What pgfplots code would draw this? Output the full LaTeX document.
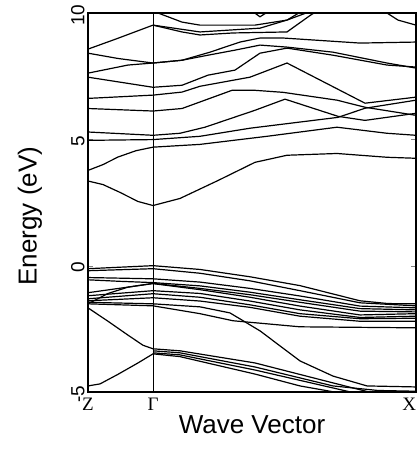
\documentclass[border=0pt]{standalone}
\usepackage{fontspec}
\setmainfont{Liberation Sans}
\newfontfamily\serif{Liberation Serif}
\usepackage{pgfplots}
\pgfplotsset{compat=1.18}
\begin{document}
\begin{tikzpicture}
\begin{axis}[
  at={(0,0)}, anchor=south west,
  scale only axis, width=328pt, height=379pt,
  xmin=0, xmax=328, ymin=-5, ymax=10,
  axis line style={line width=1.1pt},
  xtick={0,65,328}, xticklabels={Z,Γ,\llap{X}},
  xticklabel style={font=\serif\fontsize{19}{20}\selectfont, yshift=-3pt},
  major x tick style={draw=none},
  ytick={-5,0,5,10}, yticklabels={-5,0,5,10},
  yticklabel style={rotate=90, anchor=south, font=\fontsize{19}{22}\selectfont, xshift=-2pt},
  tick align=inside, ytick pos=both, major tick length=5pt,
  xlabel={Wave Vector}, ylabel={Energy (eV)},
  xlabel style={font=\fontsize{26}{30}\selectfont, at={(axis description cs:0.5,-0.087)}, anchor=center},
  ylabel style={font=\fontsize{26}{30}\selectfont, at={(axis description cs:-0.177,0.464)}, anchor=center},
  band/.style={black, line width=1.2pt},
]
% Gamma line
\addplot[black, line width=0.9pt] coordinates {(65,-5)(65,10)};
% conduction bands
\addplot[band] coordinates {(0,3.35)(15,3.21)(32,2.90)(50,2.54)(65,2.38)(92,2.66)(130,3.37)(167,4.09)(199,4.37)(249,4.44)(299,4.29)(328,4.25)};
\addplot[band] coordinates {(0,3.77)(15,4.0)(30,4.30)(48,4.55)(65,4.69)(112,4.80)(179,5.12)(249,5.48)(299,5.24)(328,5.16)};
\addplot[band] coordinates {(0,4.96)(65,4.99)(112,5.12)(162,5.44)(250,5.87)(277,6.23)(328,6.55)};
\addplot[band] coordinates {(0,5.29)(65,5.16)(92,5.24)(117,5.48)(167,6.15)(197,6.59)(250,5.91)(277,5.75)(328,6.03)};
\addplot[band] coordinates {(0,6.22)(65,6.12)(94,6.22)(144,6.94)(167,6.94)(195,6.86)(249,6.55)(277,6.27)(328,5.95)};
\addplot[band] coordinates {(0,6.62)(65,6.75)(94,6.87)(112,7.10)(162,7.46)(199,8.02)(277,6.43)(328,6.67)};
\addplot[band] coordinates {(0,7.46)(65,7.06)(94,7.14)(120,7.54)(147,7.74)(172,8.41)(199,8.61)(245,8.33)(299,7.94)(328,7.86)};
\addplot[band] coordinates {(0,7.62)(40,7.94)(65,8.02)(94,8.13)(120,8.33)(147,8.53)(172,8.73)(199,8.65)(245,8.45)(299,8.02)(328,7.82)};
\addplot[band] coordinates {(0,8.41)(30,8.2)(65,8.02)(94,8.13)(122,8.45)(152,8.85)(172,9.01)(195,9.01)(272,8.81)(328,8.85)};
\addplot[band] coordinates {(0,8.57)(30,9.0)(65,9.52)(94,9.25)(112,9.13)(145,9.21)(199,9.25)(222,9.9)(230,10.1)};
\addplot[band] coordinates {(65,9.52)(112,9.25)(172,9.4)(199,9.72)(225,10.1)};
\addplot[band] coordinates {(70,10.0)(94,9.64)(112,9.52)(167,9.52)(199,9.72)(215,10.1)};
\addplot[band] coordinates {(295,10.1)(310,9.72)(328,9.52)};
\addplot[band] coordinates {(165,10.05)(172,9.85)(180,10.05)};
% valence bands
\addplot[band] coordinates {(0,-0.12)(65,0)(112,-0.15)(162,-0.44)(212,-0.79)(272,-1.39)(300,-1.5)(328,-1.51)};
\addplot[band] coordinates {(0,-0.2)(65,-0.12)(112,-0.3)(162,-0.6)(212,-0.99)(272,-1.47)(328,-1.59)};
\addplot[band] coordinates {(0,-0.47)(65,-0.52)(112,-0.65)(162,-0.9)(212,-1.2)(272,-1.6)(328,-1.67)};
\addplot[band] coordinates {(0,-0.56)(32,-0.62)(65,-0.67)(112,-0.8)(162,-1.05)(212,-1.35)(272,-1.7)(328,-1.75)};
\addplot[band] coordinates {(0,-1.51)(20,-1.1)(40,-0.85)(65,-0.7)(112,-0.9)(162,-1.15)(212,-1.45)(272,-1.8)(328,-1.83)};
\addplot[band] coordinates {(0,-1.07)(65,-0.71)(112,-0.95)(162,-1.25)(212,-1.6)(272,-1.95)(328,-1.9)};
\addplot[band] coordinates {(0,-1.19)(65,-0.99)(112,-1.1)(162,-1.4)(212,-1.75)(272,-2.05)(328,-2.0)};
\addplot[band] coordinates {(0,-1.31)(65,-1.11)(112,-1.25)(162,-1.55)(212,-1.9)(272,-2.1)(328,-2.08)};
\addplot[band] coordinates {(0,-1.39)(65,-1.27)(112,-1.4)(162,-1.65)(212,-2.0)(272,-2.2)(328,-2.2)};
\addplot[band] coordinates {(0,-1.51)(65,-1.59)(112,-1.9)(145,-2.18)(212,-2.42)(328,-2.46)};
\addplot[band] coordinates {(0,-1.45)(65,-1.51)(112,-1.63)(142,-1.87)(172,-2.58)(212,-3.77)(245,-4.37)(279,-4.76)(328,-4.8)};
\addplot[band] coordinates {(0,-1.67)(20,-2.2)(40,-2.75)(55,-3.15)(65,-3.29)(92,-3.37)(167,-3.85)(245,-4.64)(285,-5.04)};
\addplot[band] coordinates {(65,-3.37)(92,-3.45)(167,-4.01)(245,-4.76)(290,-4.94)(328,-4.97)};
\addplot[band] coordinates {(65,-3.45)(92,-3.53)(167,-4.13)(245,-4.84)(267,-5.04)};
\addplot[band] coordinates {(0,-4.76)(12,-4.68)(30,-4.3)(50,-3.85)(65,-3.49)(92,-3.6)(167,-4.29)(212,-4.76)(252,-5.04)};
\end{axis}
\pgfresetboundingbox
\path (-88pt,-58pt) rectangle (329pt,392pt);
\end{tikzpicture}
\end{document}
